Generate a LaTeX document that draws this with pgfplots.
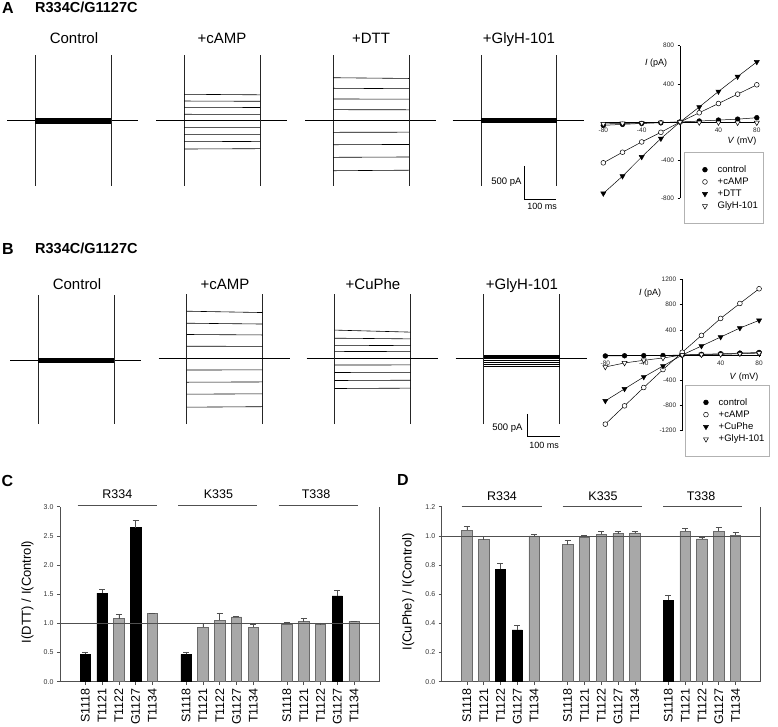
\documentclass[border=0pt]{standalone}
\usepackage{fontspec}
\setmainfont{Liberation Sans}
\usepackage{graphicx}
\usepackage{pgfplots}
\pgfplotsset{compat=1.18}
\definecolor{barg}{HTML}{A8A8A8}
\definecolor{bard}{HTML}{6A6A6A}
\definecolor{axg}{HTML}{505050}
\newcommand{\fs}[1]{\fontsize{#1}{#1}\selectfont}
\pgfplotsset{
  trA/.style={scale only axis, width=131.2pt, height=132pt, xmin=0, xmax=410, ymin=-1000, ymax=1000, hide axis, clip=false},
  trB/.style={scale only axis, width=131.2pt, height=131.4pt, xmin=0, xmax=410, ymin=-1460, ymax=1460, hide axis, clip=false},
  lev/.style={black, line width=0.6pt, mark=none, forget plot},
  band/.style={black, line width=0.7pt, mark=none, forget plot},
  tra/.style={black!85, line width=0.7pt, mark=none, forget plot},
  iv/.style={scale only axis, axis lines=middle, axis line style={black, line width=0.6pt, -},
    xmin=-82, xmax=82, xtick={-80,-40,40,80}, tick align=outside, major tick length=2.5pt,
    tick style={black, line width=0.5pt}, ticklabel style={font=\fs{6.5}, text=black!85},
    /pgf/number format/assume math mode=true, /pgf/number format/1000 sep={}, clip=false, legend cell align=left,
    legend image code/.code={\path (0pt,0pt) (28pt,0pt); \draw[##1, only marks] plot coordinates {(17.5pt,0pt)};},
    legend style={draw=black!30, fill=white, font=\fs{9.5}, inner xsep=3pt, inner ysep=11pt, anchor=north west, cells={anchor=west}}},
  pc/.style={black, line width=0.5pt, mark=*, mark size=2.4pt, mark options={fill=black, solid}},
  po/.style={black, line width=0.5pt, mark=*, mark size=2.4pt, mark options={fill=white, solid}},
  pt/.style={black, line width=0.5pt, mark=triangle*, mark size=2.9pt, mark options={rotate=180, fill=black, solid}},
  pto/.style={black, line width=0.5pt, mark=triangle*, mark size=2.9pt, mark options={rotate=180, fill=white, solid}},
  bars/.style={scale only axis, width=319.3pt, height=175pt, xmin=-1.5, xmax=17.5, ymin=0,
    axis x line*=bottom, axis y line*=left, axis line style={axg, line width=0.6pt, -},
    tick align=outside, major tick length=3pt, tick style={axg, line width=0.5pt},
    xtick={0,1,2,3,4,6,7,8,9,10,12,13,14,15,16},
    xticklabels={S1118,T1121,T1122,G1127,T1134,S1118,T1121,T1122,G1127,T1134,S1118,T1121,T1122,G1127,T1134},
    x tick label style={rotate=90, anchor=east, font=\fs{12.5}},
    y tick label style={font=\fs{7}, text=black!80, /pgf/number format/.cd, fixed, fixed zerofill, precision=1, assume math mode=true},
    clip=false, ybar, bar width=10.4pt, bar shift=0pt},
  blk/.style={fill=black, draw=black, line width=0.5pt, error bars/.cd, y dir=plus, y explicit,
    error bar style={axg, line width=0.5pt}, error mark options={rotate=90, axg, mark size=3pt, line width=0.5pt}},
  gry/.style={fill=barg, draw=bard, line width=0.5pt, error bars/.cd, y dir=plus, y explicit,
    error bar style={axg, line width=0.5pt}, error mark options={rotate=90, axg, mark size=3pt, line width=0.5pt}},
}
\begin{document}
\begin{tikzpicture}[x=1pt,y=1pt]
% ---------------- Panel labels ----------------
\node[anchor=base west, font=\bfseries\fs{16}, inner sep=0] at (2,712.7) {A};
\node[anchor=base west, font=\bfseries\fs{14.5}, inner sep=0] at (35,713.7) {R334C/G1127C};
\node[anchor=base west, font=\bfseries\fs{16}, inner sep=0] at (2,471) {B};
\node[anchor=base west, font=\bfseries\fs{14.5}, inner sep=0] at (35,472) {R334C/G1127C};
\node[anchor=base west, font=\bfseries\fs{16}, inner sep=0] at (1.5,239.3) {C};
\node[anchor=base west, font=\bfseries\fs{16}, inner sep=0] at (397,241) {D};
% trace titles
\node[anchor=base, font=\fs{15}, inner sep=0] at (74,682.7) {Control};
\node[anchor=base, font=\fs{15}, inner sep=0] at (222,682.7) {+cAMP};
\node[anchor=base, font=\fs{15}, inner sep=0] at (371,682.7) {+DTT};
\node[anchor=base, font=\fs{15}, inner sep=0] at (519,682.7) {+GlyH-101};
\node[anchor=base, font=\fs{15}, inner sep=0] at (77,436) {Control};
\node[anchor=base, font=\fs{15}, inner sep=0] at (225,436) {+cAMP};
\node[anchor=base, font=\fs{15}, inner sep=0] at (373,436) {+CuPhe};
\node[anchor=base, font=\fs{15}, inner sep=0] at (522,436) {+GlyH-101};
% scale bar texts
\node[anchor=base east, font=\fs{9.5}, inner sep=0] at (521.7,541) {500 pA};
\node[anchor=base, font=\fs{9}, inner sep=0] at (542,516) {100 ms};
\node[anchor=base east, font=\fs{9.5}, inner sep=0] at (522.7,296) {500 pA};
\node[anchor=base, font=\fs{9}, inner sep=0] at (544,277.7) {100 ms};

% ================= Panel A traces =================
\begin{axis}[trA, at={(7pt,539.3pt)}]
\addplot[lev] coordinates {(0,0)(88,0)};
\addplot[lev] coordinates {(325,0)(410,0)};
\addplot[tra] coordinates {(88,-985)(88,990)};
\addplot[tra] coordinates {(325,-985)(325,990)};
\addplot[band] coordinates {(88,38)(325,38)};
\addplot[band] coordinates {(88,28)(325,28)};
\addplot[band] coordinates {(88,18)(325,18)};
\addplot[band] coordinates {(88,9)(325,9)};
\addplot[band] coordinates {(88,0)(325,0)};
\addplot[band] coordinates {(88,-10)(325,-10)};
\addplot[band] coordinates {(88,-22)(325,-22)};
\addplot[band] coordinates {(88,-34)(325,-34)};
\addplot[band] coordinates {(88,-46)(325,-46)};
\end{axis}
\begin{axis}[trA, at={(156pt,539.3pt)}]
\addplot[lev] coordinates {(0,0)(88,0)};
\addplot[lev] coordinates {(325,0)(410,0)};
\addplot[tra] coordinates {(88,-985)(88,990)};
\addplot[tra] coordinates {(325,-985)(325,990)};
\addplot[lev] coordinates {(88,400)(325,392)};
\addplot[lev] coordinates {(88,298)(325,294)};
\addplot[lev] coordinates {(88,203)(325,200)};
\addplot[lev] coordinates {(88,97)(325,96)};
\addplot[lev] coordinates {(88,0)(325,0)};
\addplot[lev] coordinates {(88,-106)(325,-104)};
\addplot[lev] coordinates {(88,-212)(325,-210)};
\addplot[lev] coordinates {(88,-318)(325,-314)};
\addplot[lev] coordinates {(88,-429)(325,-424)};
\end{axis}
\begin{axis}[trA, at={(305pt,539.3pt)}]
\addplot[lev] coordinates {(0,0)(88,0)};
\addplot[lev] coordinates {(325,0)(410,0)};
\addplot[tra] coordinates {(88,-985)(88,990)};
\addplot[tra] coordinates {(325,-985)(325,990)};
\addplot[lev] coordinates {(88,651)(325,640)};
\addplot[lev] coordinates {(88,491)(325,485)};
\addplot[lev] coordinates {(88,329)(325,326)};
\addplot[lev] coordinates {(88,167)(325,165)};
\addplot[lev] coordinates {(88,0)(325,0)};
\addplot[lev] coordinates {(88,-176)(325,-174)};
\addplot[lev] coordinates {(88,-364)(325,-360)};
\addplot[lev] coordinates {(88,-555)(325,-550)};
\addplot[lev] coordinates {(88,-758)(325,-750)};
\end{axis}
\begin{axis}[trA, at={(452.7pt,539.3pt)}]
\addplot[lev] coordinates {(0,0)(88,0)};
\addplot[lev] coordinates {(325,0)(410,0)};
\addplot[tra] coordinates {(88,-985)(88,990)};
\addplot[tra] coordinates {(325,-985)(325,990)};
\addplot[band] coordinates {(88,32)(325,32)};
\addplot[band] coordinates {(88,24)(325,24)};
\addplot[band] coordinates {(88,15)(325,15)};
\addplot[band] coordinates {(88,8)(325,8)};
\addplot[band] coordinates {(88,0)(325,0)};
\addplot[band] coordinates {(88,-8)(325,-8)};
\addplot[band] coordinates {(88,-15)(325,-15)};
\addplot[band] coordinates {(88,-24)(325,-24)};
\addplot[band] coordinates {(88,-32)(325,-32)};
% scale bar
\addplot[black, line width=0.7pt, mark=none, forget plot] coordinates {(222.8,-686)(222.8,-1186)(322.8,-1186)};
\end{axis}

% ================= Panel A IV =================
\begin{axis}[iv, at={(601.4pt,527.7pt)}, width=157.3pt, height=152.6pt, ymin=-800, ymax=800,
  ytick={-800,-400,400,800}, legend style={at={(0.5251,0.3014)}}]
\addplot[pc] coordinates {(-80,-35)(-60,-25)(-40,-15)(-20,-8)(0,0)(20,10)(40,20)(60,30)(80,45)};
\addplot[po] coordinates {(-80,-428)(-60,-317)(-40,-209)(-20,-108)(0,0)(20,97)(40,194)(60,292)(80,390)};
\addplot[pt] coordinates {(-80,-749)(-60,-568)(-40,-366)(-20,-174)(0,0)(20,157)(40,320)(60,476)(80,630)};
\addplot[pto] coordinates {(-80,-20)(-60,-15)(-40,-10)(-20,-5)(0,0)(20,-5)(40,-5)(60,-7)(80,-7)};
\legend{control,+cAMP,+DTT,GlyH-101}
\end{axis}
\node[font=\fs{9}, inner sep=0] at (656,663) {\textit{I} (pA)};
\node[font=\fs{9}, inner sep=0] at (742,585) {\textit{V} (mV)};

% ================= Panel B traces =================
\begin{axis}[trB, at={(10pt,300.3pt)}]
\addplot[lev] coordinates {(0,0)(88,0)};
\addplot[lev] coordinates {(325,0)(410,0)};
\addplot[tra] coordinates {(88,-1420)(88,1440)};
\addplot[tra] coordinates {(325,-1420)(325,1440)};
\addplot[band] coordinates {(88,45)(325,45)};
\addplot[band] coordinates {(88,32)(325,32)};
\addplot[band] coordinates {(88,20)(325,20)};
\addplot[band] coordinates {(88,10)(325,10)};
\addplot[band] coordinates {(88,0)(325,0)};
\addplot[band] coordinates {(88,-10)(325,-10)};
\addplot[band] coordinates {(88,-22)(325,-22)};
\addplot[band] coordinates {(88,-34)(325,-34)};
\addplot[band] coordinates {(88,-46)(325,-46)};
\end{axis}
\begin{axis}[trB, at={(158.5pt,302.3pt)}]
\addplot[lev] coordinates {(0,0)(88,0)};
\addplot[lev] coordinates {(325,0)(410,0)};
\addplot[tra] coordinates {(88,-1467)(88,1420)};
\addplot[tra] coordinates {(325,-1467)(325,1420)};
\addplot[lev] coordinates {(88,1040)(325,1010)};
\addplot[lev] coordinates {(88,773)(325,755)};
\addplot[lev] coordinates {(88,522)(325,512)};
\addplot[lev] coordinates {(88,262)(325,258)};
\addplot[lev] coordinates {(88,0)(325,0)};
\addplot[lev] coordinates {(88,-267)(325,-264)};
\addplot[lev] coordinates {(88,-538)(325,-532)};
\addplot[lev] coordinates {(88,-804)(325,-796)};
\addplot[lev] coordinates {(88,-1093)(325,-1082)};
\end{axis}
\begin{axis}[trB, at={(306.5pt,302.3pt)}]
\addplot[lev] coordinates {(0,0)(88,0)};
\addplot[lev] coordinates {(325,0)(410,0)};
\addplot[tra] coordinates {(88,-1467)(88,1420)};
\addplot[tra] coordinates {(325,-1467)(325,1420)};
\addplot[lev] coordinates {(88,620)(325,575)};
\addplot[lev] coordinates {(88,440)(325,425)};
\addplot[lev] coordinates {(88,282)(325,275)};
\addplot[lev] coordinates {(88,146)(325,142)};
\addplot[lev] coordinates {(88,0)(325,0)};
\addplot[lev] coordinates {(88,-156)(325,-154)};
\addplot[lev] coordinates {(88,-322)(325,-318)};
\addplot[lev] coordinates {(88,-500)(325,-494)};
\addplot[lev] coordinates {(88,-678)(325,-670)};
\end{axis}
\begin{axis}[trB, at={(455.5pt,302.3pt)}]
\addplot[lev] coordinates {(0,0)(88,0)};
\addplot[lev] coordinates {(325,0)(410,0)};
\addplot[tra] coordinates {(88,-1467)(88,1420)};
\addplot[tra] coordinates {(325,-1467)(325,1420)};
\addplot[band] coordinates {(88,50)(325,50)};
\addplot[band] coordinates {(88,40)(325,40)};
\addplot[band] coordinates {(88,30)(325,30)};
\addplot[lev] coordinates {(88,15)(325,15)};
\addplot[lev] coordinates {(88,0)(325,0)};
\addplot[lev] coordinates {(88,-53)(325,-53)};
\addplot[lev] coordinates {(88,-98)(325,-98)};
\addplot[lev] coordinates {(88,-142)(325,-142)};
\addplot[lev] coordinates {(88,-187)(325,-187)};
% scale bar
\addplot[black, line width=0.7pt, mark=none, forget plot] coordinates {(225.6,-1244)(225.6,-1744)(325.6,-1744)};
\end{axis}

% ================= Panel B IV =================
\begin{axis}[iv, at={(603.4pt,295.3pt)}, width=157.6pt, height=151.4pt, ymin=-1200, ymax=1200,
  ytick={-1200,-800,-400,400,800,1200}, legend style={at={(0.5178,0.3018)}}]
\addplot[pc] coordinates {(-80,-15)(-60,-12)(-40,-10)(-20,-8)(0,0)(20,10)(40,20)(60,30)(80,40)};
\addplot[po] coordinates {(-80,-1096)(-60,-806)(-40,-515)(-20,-231)(0,43)(20,311)(40,580)(60,817)(80,1050)};
\addplot[pt] coordinates {(-80,-727)(-60,-537)(-40,-348)(-20,-174)(0,0)(20,142)(40,285)(60,427)(80,549)};
\addplot[pto] coordinates {(-80,-190)(-60,-126)(-40,-84)(-20,-47)(0,0)(20,5)(40,10)(60,20)(80,30)};
\legend{control,+cAMP,+CuPhe,+GlyH-101}
\end{axis}
\node[font=\fs{9}, inner sep=0] at (650,433) {\textit{I} (pA)};
\node[font=\fs{9}, inner sep=0] at (744,349.3) {\textit{V} (mV)};

% ================= Panel C =================
\node[anchor=base, font=\fs{12.5}, inner sep=0] at (117.3,227.7) {R334};
\node[anchor=base, font=\fs{12.5}, inner sep=0] at (218.5,227.7) {K335};
\node[anchor=base, font=\fs{12.5}, inner sep=0] at (316,227.7) {T338};
\draw[axg, line width=0.6pt] (77.7,221) -- (156.7,221);
\draw[axg, line width=0.6pt] (178,221) -- (257,221);
\draw[axg, line width=0.6pt] (278.7,221) -- (357.7,221);
\node[rotate=90, font=\fs{13}, inner sep=0] at (27.5,134) {I(DTT) / I(Control)};
\begin{axis}[bars, at={(60pt,44.3pt)}, ymax=3, ytick={0,0.5,1,1.5,2,2.5,3}]
\addplot[blk] coordinates {(0,0.47) +- (0,0.04) (1,1.52) +- (0,0.06) (3,2.64) +- (0,0.13) (6,0.47) +- (0,0.04) (15,1.47) +- (0,0.09)};
\addplot[gry] coordinates {(2,1.08) +- (0,0.07) (4,1.17) +- (0,0.01) (7,0.93) +- (0,0.08) (8,1.05) +- (0,0.13) (9,1.11) +- (0,0.01) (10,0.93) +- (0,0.05) (12,0.99) +- (0,0.03) (13,1.03) +- (0,0.05) (14,0.98) +- (0,0.03) (16,1.03) +- (0,0.01)};
\addplot[sharp plot, axg, line width=0.6pt, mark=none, forget plot] coordinates {(-1.5,1) (17.5,1)};
\draw[axg, line width=0.6pt] (rel axis cs:1,0) -- (rel axis cs:1,1);
\end{axis}

% ================= Panel D =================
\node[anchor=base, font=\fs{12.5}, inner sep=0] at (502,226) {R334};
\node[anchor=base, font=\fs{12.5}, inner sep=0] at (603,226) {K335};
\node[anchor=base, font=\fs{12.5}, inner sep=0] at (701,226) {T338};
\draw[axg, line width=0.6pt] (461.7,219.3) -- (541.7,219.3);
\draw[axg, line width=0.6pt] (562.7,219.3) -- (641.7,219.3);
\draw[axg, line width=0.6pt] (663.3,219.3) -- (742.3,219.3);
\node[rotate=90, font=\fs{13}, inner sep=0] at (408.3,134) {I(CuPhe) / I(Control)};
\begin{axis}[bars, at={(441.7pt,44.3pt)}, width=319pt, ymax=1.2, ytick={0,0.2,0.4,0.6,0.8,1.0,1.2}]
\addplot[blk] coordinates {(2,0.77) +- (0,0.045) (3,0.355) +- (0,0.03) (12,0.56) +- (0,0.035)};
\addplot[gry] coordinates {(0,1.04) +- (0,0.025) (1,0.975) +- (0,0.022) (4,1.0) +- (0,0.01) (6,0.94) +- (0,0.027) (7,0.99) +- (0,0.015) (8,1.01) +- (0,0.02) (9,1.015) +- (0,0.02) (10,1.02) +- (0,0.015) (13,1.03) +- (0,0.022) (14,0.98) +- (0,0.01) (15,1.03) +- (0,0.03) (16,1.005) +- (0,0.018)};
\addplot[sharp plot, axg, line width=0.6pt, mark=none, forget plot] coordinates {(-1.5,1) (17.5,1)};
\draw[axg, line width=0.6pt] (rel axis cs:1,0) -- (rel axis cs:1,1);
\end{axis}

\pgfresetboundingbox
\path (0,0) rectangle (778,726);
\end{tikzpicture}
\end{document}
